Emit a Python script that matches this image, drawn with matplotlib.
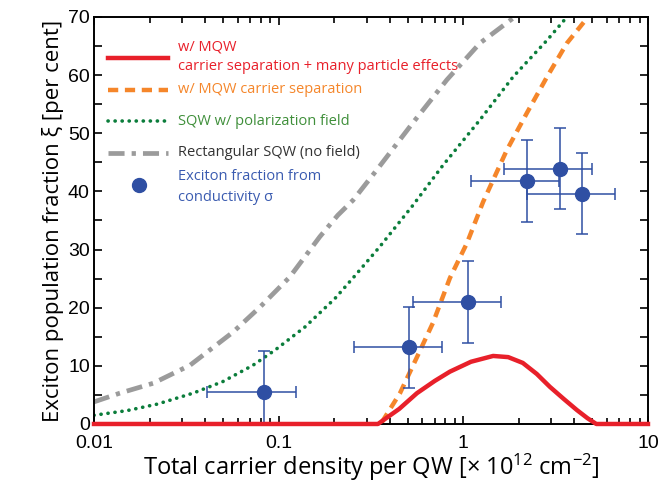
import matplotlib.pyplot as plt
from matplotlib.ticker import MultipleLocator, NullFormatter
import numpy as np

plt.rcParams['font.family'] = ['Open Sans', 'DejaVu Sans']
plt.rcParams['mathtext.default'] = 'regular'

# red: w/ MQW carrier separation + many particle effects
red_x = [0.01, 0.345, 0.45, 0.561, 0.70, 0.846, 1.1, 1.45, 1.75, 2.10, 2.5, 2.94, 3.5, 4.12, 4.7, 5.25, 10]
red_y = [0, 0, 2.6, 5.3, 7.4, 9.0, 10.7, 11.7, 11.5, 10.5, 8.6, 6.4, 4.3, 2.4, 1.0, 0, 0]

# orange: w/ MQW carrier separation
org_x = [0.362, 0.454, 0.561, 0.685, 0.846, 1.046, 1.28, 1.72, 2.21, 2.84, 3.64, 4.68]
org_y = [0.3, 5.3, 11.5, 17.4, 25.1, 31.1, 38.2, 47.1, 53.5, 59.7, 65.5, 69.8]

# green: SQW w/ polarization field
grn_x = [0.01, 0.0151, 0.0219, 0.0344, 0.0499, 0.0726, 0.0955, 0.139, 0.202, 0.259, 0.353, 0.53, 0.776, 1.23, 1.86, 2.84, 3.64]
grn_y = [1.5, 2.3, 3.4, 5.3, 7.3, 10.1, 12.7, 16.7, 21.6, 25.5, 30.5, 37.5, 44.5, 52.3, 59.7, 66.0, 70]

# gray: rectangular SQW (no field)
gry_x = [0.01, 0.0138, 0.0209, 0.0331, 0.0566, 0.0792, 0.115, 0.167, 0.209, 0.253, 0.340, 0.533, 0.815, 1.23, 1.86]
gry_y = [3.8, 5.3, 7.0, 10.1, 15.8, 20.1, 25.3, 32.2, 35.9, 38.5, 43.7, 51.8, 59.2, 65.5, 69.8]

# exciton fraction from conductivity
pt_x = [0.0832, 0.507, 1.06, 2.21, 3.33, 4.39]
pt_y = [5.5, 13.2, 21.0, 41.8, 43.9, 39.6]
pt_xlo = [0.041, 0.256, 0.533, 1.10, 1.66, 2.21]
pt_xhi = [0.124, 0.766, 1.60, 3.29, 4.97, 6.60]
pt_yerr = [7.0, 7.0, 7.0, 7.0, 7.0, 7.0]

fig = plt.figure(figsize=(6.61, 4.91), dpi=100)
ax = fig.add_axes([0.1422, 0.1365, 0.8381, 0.8289])

gray_ls = dict(color='#9b9b9b', lw=3.4, dashes=(3.4, 1.5, 0.9, 1.5), dash_capstyle='butt')
green_ls = dict(color='#0b7d3b', lw=2.6, linestyle=(0, (0.05, 1.9)), dash_capstyle='round')
orange_ls = dict(color='#f5862a', lw=3.2, dashes=(2.3, 1.5))
red_ls = dict(color='#e8202a', lw=3.2)

ax.plot(gry_x, gry_y, **gray_ls)
ax.plot(grn_x, grn_y, **green_ls)
ax.plot(org_x, org_y, **orange_ls)
ax.plot(red_x, red_y, zorder=5, clip_on=False, **red_ls)

xerr = [np.array(pt_x) - np.array(pt_xlo), np.array(pt_xhi) - np.array(pt_x)]
ax.errorbar(pt_x, pt_y, xerr=xerr, yerr=pt_yerr, fmt='o', color='#2f4fa3', ms=10,
            elinewidth=1.1, capsize=4, capthick=1.1, zorder=4)

ax.set_xscale('log')
ax.set_xlim(0.01, 10)
ax.set_ylim(0, 70)
ax.set_xticks([0.01, 0.1, 1, 10])
ax.set_xticklabels(['0.01', '0.1', '1', '10'])
ax.xaxis.set_minor_formatter(NullFormatter())
ax.yaxis.set_major_locator(MultipleLocator(10))
ax.yaxis.set_minor_locator(MultipleLocator(5))
ax.tick_params(which='both', direction='in', top=True, right=True, width=1.2)
ax.tick_params(which='major', length=6, labelsize=14)
ax.tick_params(axis='x', which='major', pad=8)
ax.tick_params(axis='y', which='major', pad=3)
ax.tick_params(axis='x', which='minor', length=4)
ax.tick_params(axis='y', which='minor', length=6)
for lab in ax.get_xticklabels() + ax.get_yticklabels():
    lab.set_family('Liberation Sans')
for s in ax.spines.values():
    s.set_linewidth(1.4)

ax.set_xlabel('Total carrier density per QW [× 10$^{12}$ cm$^{-2}$]', fontsize=17, labelpad=0)
ax.set_ylabel('Exciton population fraction ξ [per cent]', fontsize=16, labelpad=3)

# legend drawn by hand
tr = ax.transAxes
def fx(px):
    return (px - 94) / 554.0
def fy(py):
    return (424 - py) / 407.0

lx = [fx(108), fx(168)]
ax.plot(lx, [fy(58)] * 2, transform=tr, clip_on=False, **red_ls)
ax.plot(lx, [fy(90)] * 2, transform=tr, **orange_ls)
ax.plot(lx, [fy(121)] * 2, transform=tr, **green_ls)
ax.plot(lx, [fy(153)] * 2, transform=tr, **gray_ls)
ax.plot([fx(139)], [fy(185)], 'o', transform=tr, color='#2f4fa3', ms=10)

tx = fx(178)
kw = dict(transform=tr, fontsize=10.5, va='center', ha='left')
ax.text(tx, fy(47), 'w/ MQW', color='#e8202a', **kw)
ax.text(tx, fy(67), 'carrier separation + many particle effects', color='#e8202a', **kw)
ax.text(tx, fy(90), 'w/ MQW carrier separation', color='#f5862a', **kw)
ax.text(tx, fy(122), 'SQW w/ polarization field', color='#3f8f3a', **kw)
ax.text(tx, fy(153), 'Rectangular SQW (no field)', color='#333333', **kw)
ax.text(tx, fy(177), 'Exciton fraction from', color='#3a5bb0', **kw)
ax.text(tx, fy(198), 'conductivity σ', color='#3a5bb0', **kw)

fig.savefig('out.png', dpi=100)
